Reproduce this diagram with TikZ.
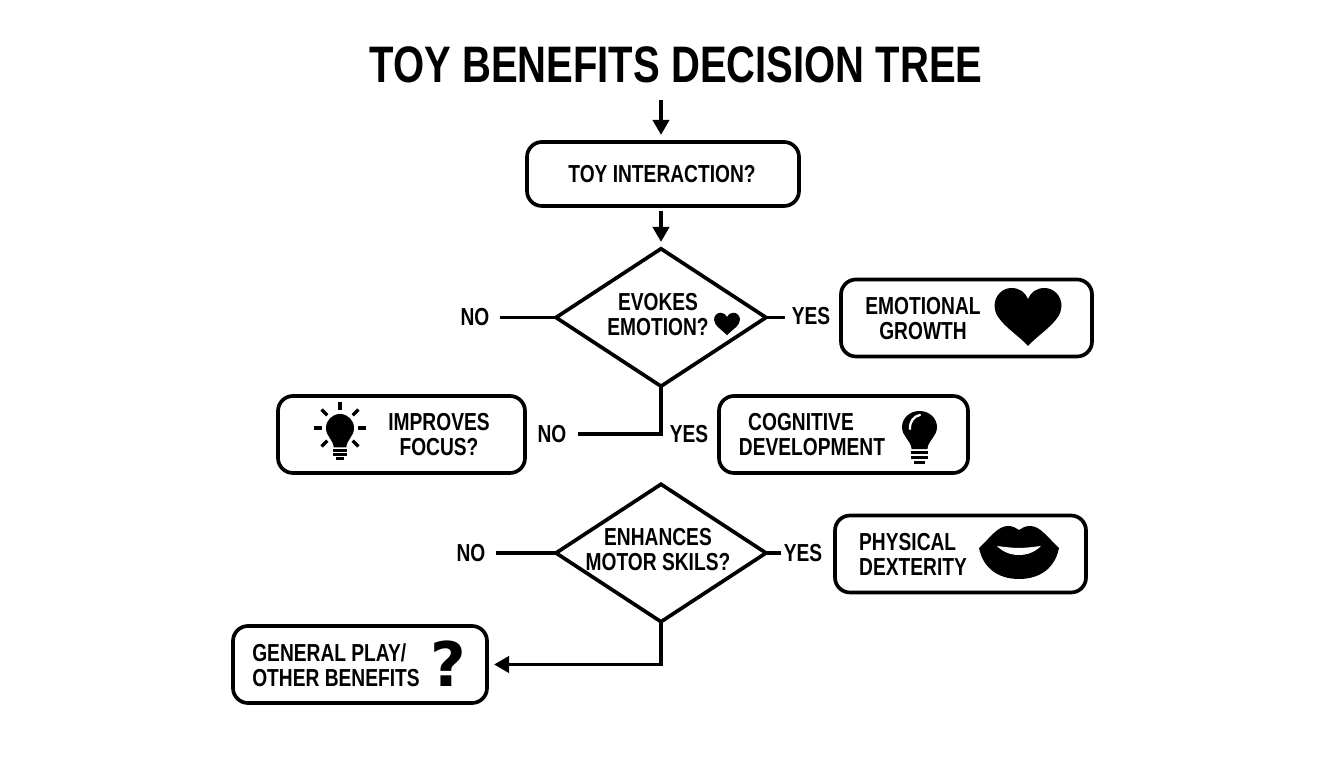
\documentclass[tikz,border=0pt]{standalone}
\usepackage{fontspec}
\setmainfont[FakeStretch=0.78]{Liberation Sans}
\newfontfamily\iconfont{DejaVu Sans}
\usetikzlibrary{shapes.geometric, arrows.meta}
\tikzset{
  flowline/.style = {black, line width = 2.1pt},
  flowarrow/.style = {flowline, -{Triangle[length = 0.3cm, width = 0.32cm]}},
  resultbox/.style = {draw = black, line width = 2.1pt, rounded corners = 0.3cm, minimum height = 1.54cm, outer sep = 0pt},
  question/.style = {draw = black, line width = 2.1pt, diamond, shape aspect = 1.53, minimum width = 4.2cm, minimum height = 2.75cm, inner sep = 0pt, outer sep = 0pt},
  caption/.style = {black, font = \fontsize{14}{14.2}\selectfont\bfseries, align = center, inner sep = 0pt},
  heart/.pic = {
    \fill[black] (0, -1) .. controls (-0.35, -0.55) and (-1, -0.15) .. (-1, 0.38)
      .. controls (-1, 0.75) and (-0.75, 1) .. (-0.5, 1)
      .. controls (-0.25, 1) and (-0.08, 0.85) .. (0, 0.62)
      .. controls (0.08, 0.85) and (0.25, 1) .. (0.5, 1)
      .. controls (0.75, 1) and (1, 0.75) .. (1, 0.38)
      .. controls (1, -0.15) and (0.35, -0.55) .. (0, -1) -- cycle;
  },
  bulb/.pic = {
    \fill[black] (-0.45, -1.38) .. controls (-0.5, -0.8) and (-1, -0.6) .. (-1, 0)
      arc (180:0:1) .. controls (1, -0.6) and (0.5, -0.8) .. (0.45, -1.38) -- cycle;
    \fill[black] (-0.5, -1.5) rectangle (0.5, -1.68);
    \fill[black] (-0.5, -1.8) rectangle (0.5, -1.98);
    \fill[black] (-0.32, -2.1) rectangle (0.32, -2.3);
  }
}
\begin{document}
\begin{tikzpicture}[scale = 1]
\useasboundingbox (0, 0) rectangle (26.88, 15.36);
% title
\node[black, font = \fontsize{29.2}{30}\selectfont\bfseries, inner sep = 0pt] (title) at (13.52, 14.06) {TOY BENEFITS DECISION TREE};
% boxes and diamonds
\node[resultbox, minimum width = 5.44cm, minimum height = 1.28cm] (interaction) at (13.26, 11.88) {};
\node[question] (emotion) at (13.22, 9.01) {};
\node[question] (motor) at (13.22, 4.30) {};
\node[resultbox, minimum width = 5.02cm] (growth) at (19.33, 9.00) {};
\node[resultbox, minimum width = 4.94cm] (focus) at (8.03, 6.67) {};
\node[resultbox, minimum width = 4.98cm] (cognitive) at (16.87, 6.67) {};
\node[resultbox, minimum width = 5.02cm] (dexterity) at (19.21, 4.28) {};
\node[resultbox, minimum width = 5.08cm] (general) at (7.20, 2.07) {};
% texts
\node[caption] (interactiontext) at (13.24, 11.88) {TOY INTERACTION?};
\node[caption] (emotiontext) at (13.16, 9.06) {EVOKES\\EMOTION?};
\node[caption] (motortext) at (13.16, 4.36) {ENHANCES\\MOTOR SKILS?};
\node[caption] (growthtext) at (18.46, 8.98) {EMOTIONAL\\GROWTH};
\node[caption] (focustext) at (8.78, 6.66) {IMPROVES\\FOCUS?};
\node[caption] (cognitivetext) at (16.24, 6.66) {\hspace*{-0.44cm}COGNITIVE\\DEVELOPMENT};
\node[caption, align = left] (dexteritytext) at (18.26, 4.28) {PHYSICAL\\DEXTERITY};
\node[caption, align = left] (generaltext) at (6.72, 2.06) {GENERAL PLAY/\\OTHER BENEFITS};
\node[black, font = \iconfont\fontsize{35}{35}\selectfont\bfseries, inner sep = 0pt] (mark) at (8.96, 2.08) {?};
% branch labels
\node[caption] (noemotion) at (9.50, 9.01) {NO};
\node[caption] (yesemotion) at (16.22, 9.04) {YES};
\node[caption] (nofocus) at (11.04, 6.68) {NO};
\node[caption] (yesfocus) at (13.78, 6.68) {YES};
\node[caption] (nomotor) at (9.42, 4.30) {NO};
\node[caption] (yesmotor) at (16.06, 4.30) {YES};
% connectors
\coordinate (start) at (13.22, 13.36);
\coordinate (starttip) at (13.22, 12.66);
\coordinate (emotiontip) at (13.22, 10.52);
\coordinate (interactionfoot) at (13.22, 11.14);
\draw[flowarrow] (start) -- (starttip);
\draw[flowarrow] (interactionfoot) -- (emotiontip);
\draw[flowline] ([xshift = 0.2cm]noemotion.east) -- (emotion.west);
\draw[flowline] (emotion.east) -- ++(0.38, 0);
\draw[flowline] (emotion.south) |- ([xshift = 0.22cm]nofocus.east);
\draw[flowline] ([xshift = 0.2cm]nomotor.east) -- (motor.west);
\draw[flowline] (motor.east) -- ++(0.3, 0);
\draw[flowarrow] (motor.south) |- ([xshift = 0.14cm]general.east);
% icons
\pic[xscale = 0.67, yscale = 0.58] at (20.56, 9.02) {heart};
\pic[xscale = 0.26, yscale = 0.225] at (14.54, 8.88) {heart};
\pic[scale = 0.28] at (6.80, 6.80) {bulb};
\foreach \a in {90, 45, 135, 0, 180, -45, 225} {
  \draw[black, line width = 1.9pt] (6.80, 6.80) ++(\a:0.36) -- ++(\a:0.16);
}
\pic[xscale = 0.35, yscale = 0.32] at (18.39, 6.82) {bulb};
\draw[white, line width = 1.3pt, line cap = round] (18.20, 6.78) .. controls (18.19, 6.93) and (18.28, 7.04) .. (18.40, 7.06);
% lips
\fill[black] (19.58, 4.40) .. controls (19.80, 4.60) and (19.95, 4.84) .. (20.16, 4.84)
  .. controls (20.26, 4.84) and (20.32, 4.80) .. (20.38, 4.76)
  .. controls (20.44, 4.80) and (20.50, 4.84) .. (20.60, 4.84)
  .. controls (20.81, 4.84) and (20.96, 4.60) .. (21.18, 4.40)
  .. controls (21.10, 4.00) and (20.80, 3.78) .. (20.38, 3.78)
  .. controls (19.96, 3.78) and (19.66, 4.00) .. (19.58, 4.40) -- cycle;
\fill[white] (19.94, 4.44) .. controls (20.10, 4.42) and (20.25, 4.40) .. (20.38, 4.40)
  .. controls (20.51, 4.40) and (20.66, 4.42) .. (20.82, 4.44)
  .. controls (20.70, 4.32) and (20.55, 4.26) .. (20.38, 4.26)
  .. controls (20.21, 4.26) and (20.06, 4.32) .. (19.94, 4.44) -- cycle;
\end{tikzpicture}
\end{document}
